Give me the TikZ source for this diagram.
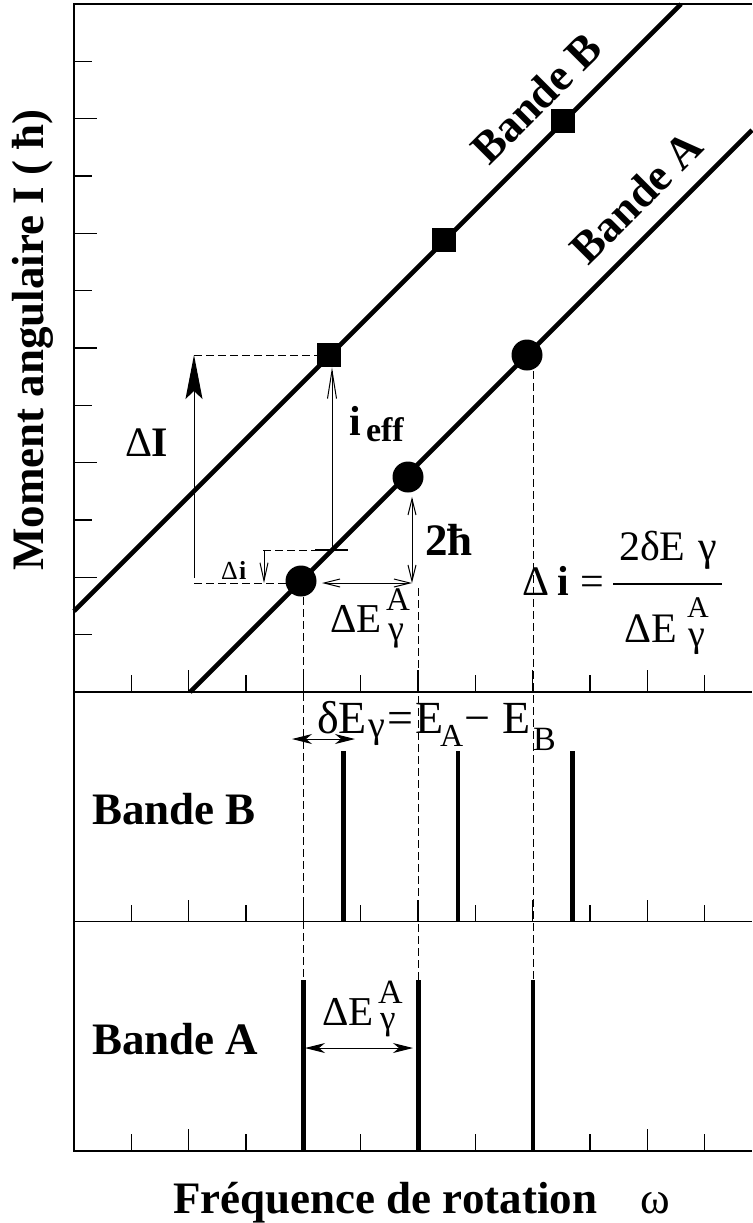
\documentclass[tikz,border=0pt]{standalone}
\usepackage{fontspec}
\setmainfont{Liberation Serif}
\usetikzlibrary{arrows.meta}
\newcommand\myfs[1]{\fontsize{#1pt}{#1pt}\selectfont}
\begin{document}
\begin{tikzpicture}[x=0.5pt,y=-0.5pt,
  frameline/.style={line width=0.85pt},
  tickline/.style={line width=0.6pt},
  bandline/.style={line width=2.3pt},
  barline/.style={line width=2.3pt},
  guide/.style={dash pattern=on 4pt off 2pt, line width=0.5pt},
  thinline/.style={line width=0.5pt},
  sqmark/.style={fill, minimum size=12pt, inner sep=0pt},
  dotmark/.style={circle, fill, minimum size=15.5pt, inner sep=0pt},
  txt/.style={inner sep=0pt, outer sep=0pt, anchor=base west},
  big/.style={font=\myfs{22.5}\bfseries},
  openhead/.style={-{Straight Barb[length=8pt,width=4pt]}},
  bothopen/.style={{Straight Barb[length=8pt,width=4pt]}-{Straight Barb[length=8pt,width=4pt]}},
  bothfill/.style={{Stealth[length=10pt,width=5pt,inset=3pt]}-{Stealth[length=10pt,width=5pt,inset=3pt]}}
]
\useasboundingbox (0,0) rectangle (752,1223);

% frame and panels
\draw[frameline] (752,4) -- (74,4) -- (74,1151) -- (752,1151);
\draw[frameline] (74,692) -- (752,692);
\draw[frameline] (74,921.5) -- (752,921.5);

% ticks
\foreach \yb in {692,921.5,1151}{
  \foreach \k in {1,...,11}{
    \pgfmathsetmacro\xx{74+\k*57.333}
    \pgfmathsetmacro\ll{mod(\k,2)==0 ? 22 : 17}
    \draw[tickline] (\xx,\yb) -- (\xx,\yb-\ll);
  }
}
\foreach \k in {1,...,11}{
  \pgfmathsetmacro\yy{692-\k*57.333}
  \pgfmathsetmacro\ll{mod(\k,2)==0 ? 23 : 18}
  \draw[tickline] (74,\yy) -- (74+\ll,\yy);
}

% band lines
\coordinate (bBs) at (74,611);
\coordinate (bBe) at (681,4);
\coordinate (bAs) at (190,692);
\coordinate (bAe) at (752,130);
\draw[bandline] (bBs) -- (bBe);
\draw[bandline] (bAs) -- (bAe);

% markers
\node[sqmark] (s1) at (329,355) {};
\node[sqmark] (s2) at (444,240) {};
\node[sqmark] (s3) at (563,121) {};
\node[dotmark] (c1) at (301,581) {};
\node[dotmark] (c2) at (408,477) {};
\node[dotmark] (c3) at (527,355) {};

% band labels on lines
\node[big, rotate=45, anchor=base, inner sep=0pt] (labB) at (547,109) {Bande B};
\node[big, rotate=45, anchor=base, inner sep=0pt] (labA) at (647,208) {Bande A};

% vertical dashed guides
\coordinate (g1t) at (303,597); \coordinate (g1b) at (303,980);
\coordinate (g2t) at (418,588); \coordinate (g2b) at (418,980);
\coordinate (g3t) at (533,371); \coordinate (g3b) at (533,980);
\draw[guide] (g1t) -- (g1b);
\draw[guide] (g2t) -- (g2b);
\draw[guide] (g3t) -- (g3b);

% Delta I construction
\coordinate (dIb) at (194,578);
\coordinate (dIt) at (194,355);
\draw[thinline, -{Stealth[length=22pt,width=8.5pt,inset=4pt]}] (dIb) -- (dIt);
\draw[guide] (dIt) -- (s1.west);
\coordinate (dIl) at (194,583);
\draw[guide] (dIl) -- (287,583);
\node[txt, font=\myfs{21}] (dIlabD) at (125,456) {Δ};
\node[txt, font=\myfs{21}\bfseries] (dIlabI) at (151,456) {I};

% i_eff
\coordinate (ieb) at (332,550);
\draw[thinline, -{Straight Barb[length=14pt,width=4.5pt]}] (ieb) -- (ieb |- s1.south);
\coordinate (hsL) at (315,550); \coordinate (hsR) at (348,550);
\draw[line width=1pt] (hsL) -- (hsR);
\coordinate (dil) at (263,550);
\draw[guide] (dil) -- (hsL);
\coordinate (dib) at (264,583);
\draw[thinline, -{Straight Barb[length=9pt,width=4pt]}] (264,550) -- (dib);
\node[txt, font=\myfs{13}] (dsmD) at (221,579) {Δ};
\node[txt, font=\myfs{13}\bfseries] (dsmi) at (239,579) {i};
\node[txt, font=\myfs{21}\bfseries] (ieffi) at (349,435) {i};
\node[txt, font=\myfs{17}\bfseries] (ieffs) at (366,441) {eff};

% 2hbar and Delta E arrows
\coordinate (corner) at (412,583);
\draw[thinline, bothopen] (c2.south) ++(4,4) -- (corner);
\draw[thinline, bothopen] (322,583) -- (corner);
\node[txt, font=\myfs{22.5}\bfseries] (twoh) at (425,555) {2ħ};
\node[txt, font=\myfs{20.5}] (dEt) at (330,632) {ΔE};
\node[txt, font=\myfs{16.5}] (dEtA) at (386,610) {A};
\node[txt, font=\myfs{18}] (dEtg) at (388,640) {γ};

% formula
\node[txt, font=\myfs{21}] (fD) at (522,595) {Δ};
\node[txt, font=\myfs{21}\bfseries] (fi) at (557,595) {i};
\node[txt, font=\myfs{21}] (feq) at (580,595) {=};
\coordinate (fbl) at (613,584); \coordinate (fbr) at (722,584);
\draw[line width=1.1pt] (fbl) -- (fbr);
\node[txt, font=\myfs{21}] (fnum) at (619,560) {2δE};
\node[txt, font=\myfs{21}] (fnumg) at (698,560) {γ};
\node[txt, font=\myfs{21}] (fden) at (624,642) {ΔE};
\node[txt, font=\myfs{15}] (fdenA) at (687,617) {A};
\node[txt, font=\myfs{19}] (fdeng) at (688,646) {γ};

% middle panel
\node[txt, big] (midlab) at (92,824) {Bande B};
\foreach \xb in {343.5,458,572.5}{
  \draw[barline] (\xb,751) -- (\xb,921.5);
}
\node[txt, font=\myfs{23}] (m1) at (317,733) {δE};
\node[txt, font=\myfs{19}] (m2) at (368,737) {γ};
\node[txt, font=\myfs{23}] (m3) at (387,733) {=};
\node[txt, font=\myfs{23}] (m4) at (415,733) {E};
\node[txt, font=\myfs{16}] (m5) at (440,746) {A};
\node[txt, font=\myfs{23}] (m6) at (464,733) {−};
\node[txt, font=\myfs{23}] (m7) at (502,733) {E};
\node[txt, font=\myfs{17}] (m8) at (533,750) {B};
\coordinate (mal) at (292,739); \coordinate (mar) at (355,739);
\draw[thinline, bothfill] (mal) -- (mar);

% bottom panel
\node[txt, big] (botlab) at (92,1054) {Bande A};
\foreach \xb in {303.5,418.3,533}{
  \draw[barline] (\xb,980) -- (\xb,1151);
}
\coordinate (bal) at (305,1048); \coordinate (bar) at (413,1048);
\draw[thinline, bothfill] (bal) -- (bar);
\node[txt, font=\myfs{20.5}] (b1) at (322,1025) {ΔE};
\node[txt, font=\myfs{17}] (b2) at (378,1003) {A};
\node[txt, font=\myfs{17.5}] (b3) at (380,1029) {γ};

% axis labels
\node[big, rotate=90, anchor=base, inner sep=0pt] (ylab) at (43,340) {Moment angulaire I ( ħ)};
\node[txt, big] (xlab) at (173,1213) {Fréquence de rotation};
\node[txt, font=\myfs{22.5}] (xw) at (640,1213) {ω};
\end{tikzpicture}
\end{document}
